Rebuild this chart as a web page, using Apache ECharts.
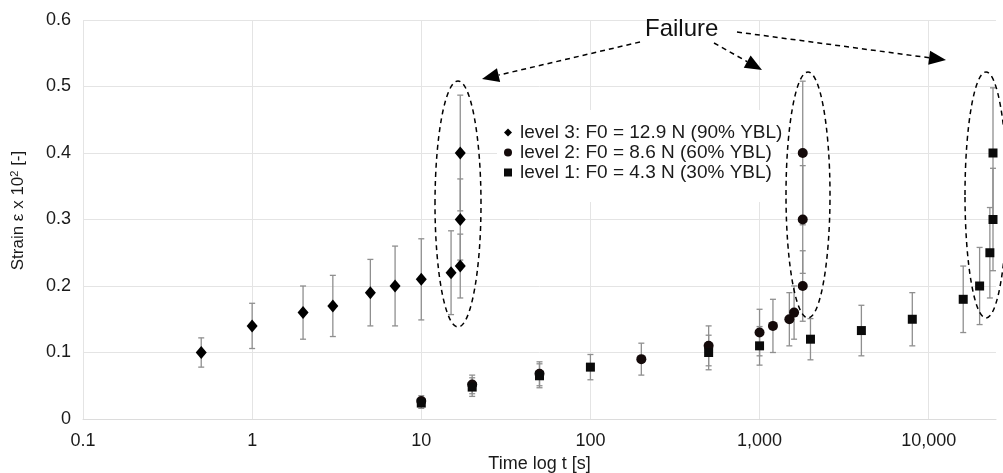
<!DOCTYPE html>
<html>
<head>
<meta charset="utf-8">
<script src="https://cdn.jsdelivr.net/npm/echarts@6/dist/echarts.min.js"></script>
<style>
html,body{margin:0;padding:0;background:#fff;}
#chart{width:1003px;height:473px;}
</style>
</head>
<body>
<div id="chart"></div>
<script>
// ---- data (time t [s], strain, error half-width) ----
var level3T   = [0.5, 1, 2, 3, 5, 7, 10, 15, 17, 17, 17];
var level3Y   = [0.10, 0.14, 0.16, 0.17, 0.19, 0.20, 0.21, 0.22, 0.23, 0.30, 0.40];
var level3Err = [0.022, 0.034, 0.040, 0.046, 0.050, 0.060, 0.061, 0.063, 0.048, 0.061, 0.087];

var level2T   = [10, 20, 50, 200, 500, 1000, 1200, 1500, 1600, 1800, 1800, 1800];
var level2Y   = [0.027, 0.052, 0.068, 0.09, 0.11, 0.13, 0.14, 0.15, 0.16, 0.20, 0.30, 0.40];
var level2Err = [0.008, 0.014, 0.018, 0.024, 0.030, 0.035, 0.040, 0.040, 0.040, 0.053, 0.081, 0.108];

var level1T   = [10, 20, 50, 100, 500, 1000, 2000, 4000, 8000, 16000, 20000, 23000, 24000, 24000];
var level1Y   = [0.024, 0.048, 0.065, 0.078, 0.10, 0.11, 0.12, 0.133, 0.15, 0.18, 0.20, 0.25, 0.30, 0.40];
var level1Err = [0.008, 0.014, 0.018, 0.019, 0.026, 0.029, 0.031, 0.038, 0.040, 0.050, 0.058, 0.068, 0.077, 0.098];

var seriesNames = ['level 3: F0 = 12.9 N (90% YBL)', 'level 2: F0 = 8.6 N (60% YBL)', 'level 1: F0 = 4.3 N (30% YBL)'];
var yTicks = [0, 0.1, 0.2, 0.3, 0.4, 0.5, 0.6];
var xRange = [0.1, 25000];
var annotationText = 'Failure';

function pts(T, Y) { return T.map(function (t, i) { return [t, Y[i]]; }); }
function bars(T, Y, E) { return T.map(function (t, i) { return [t, Y[i] - E[i], Y[i] + E[i]]; }); }

var FONT = 'Liberation Sans, Arial, sans-serif';
var TXT = '#1a1a1a';

function errRender(params, api) {
  var x = api.value(0);
  var lo = api.coord([x, api.value(1)]);
  var hi = api.coord([x, api.value(2)]);
  var cw = 3;
  var st = { stroke: '#8f8f8f', lineWidth: 1.3 };
  return {
    type: 'group',
    children: [
      { type: 'line', shape: { x1: lo[0], y1: lo[1], x2: hi[0], y2: hi[1] }, style: st },
      { type: 'line', shape: { x1: lo[0] - cw, y1: lo[1], x2: lo[0] + cw, y2: lo[1] }, style: st },
      { type: 'line', shape: { x1: hi[0] - cw, y1: hi[1], x2: hi[0] + cw, y2: hi[1] }, style: st }
    ]
  };
}

function fmtX(v) {
  var r = Math.round(v * 1000) / 1000;
  if (r >= 1000) return String(r).replace(/\B(?=(\d{3})+(?!\d))/g, ',');
  return String(r);
}

function arrow(x1, y1, x2, y2) {
  var dx = x2 - x1, dy = y2 - y1, L = Math.sqrt(dx * dx + dy * dy);
  var ux = dx / L, uy = dy / L, len = 17, hw = 7;
  var bx = x2 - ux * len, by = y2 - uy * len;
  return [
    { type: 'line', shape: { x1: x1, y1: y1, x2: bx, y2: by },
      style: { stroke: '#000', lineWidth: 1.5, lineDash: [5, 4] }, z: 100 },
    { type: 'polygon', shape: { points: [[x2, y2], [bx - uy * hw, by + ux * hw], [bx + uy * hw, by - ux * hw]] },
      style: { fill: '#000' }, z: 100 }
  ];
}

function ellipse(cx, cy, rx, ry) {
  return { type: 'ellipse', shape: { cx: cx, cy: cy, rx: rx, ry: ry },
    style: { fill: null, stroke: '#000', lineWidth: 1.5, lineDash: [5, 4] }, z: 100 };
}

var chart = echarts.init(document.getElementById('chart'), null, { renderer: 'canvas' });

var graphics = [
  { type: 'text', left: 645, top: 17, z: 100,
    style: { text: annotationText, font: '24px ' + FONT, fill: '#111' } },
  ellipse(458, 204, 23, 123),
  ellipse(808, 195, 22, 123),
  ellipse(986, 195, 21, 123)
].concat(arrow(640, 42, 482, 79), arrow(714, 43, 762, 70), arrow(737, 32, 946, 60));

chart.setOption({
  animation: false,
  backgroundColor: '#fff',
  grid: { left: 83, right: 7, top: 20, bottom: 54, containLabel: false, outerBoundsMode: 'none' },
  legend: {
    data: [
      { name: seriesNames[0], icon: 'diamond' },
      { name: seriesNames[1], icon: 'circle' },
      { name: seriesNames[2], icon: 'rect' }
    ],
    orient: 'vertical',
    left: 497, top: 110,
    padding: [13, 8, 20, 7],
    itemWidth: 8, itemHeight: 8, itemGap: 1,
    backgroundColor: '#fff',
    textStyle: { fontFamily: FONT, fontSize: 19, color: TXT, padding: [0, 0, 0, 3] },
    selectedMode: false
  },
  xAxis: {
    type: 'log', logBase: 10, min: xRange[0], max: xRange[1],
    name: 'Time log t [s]', nameLocation: 'middle', nameGap: 29,
    nameTextStyle: { fontFamily: FONT, fontSize: 18, color: TXT },
    axisLine: { show: true, lineStyle: { color: '#dcdcdc', width: 1 } },
    axisTick: { show: false },
    axisLabel: { fontFamily: FONT, fontSize: 18, color: TXT, margin: 13, formatter: fmtX, showMaxLabel: false },
    splitLine: { show: true, showMaxLine: false, lineStyle: { color: '#e4e4e4', width: 1 } }
  },
  yAxis: {
    type: 'value', min: yTicks[0], max: yTicks[yTicks.length - 1], interval: 0.1,
    name: 'Strain ε x 10{sup|2} [-]', nameLocation: 'middle', nameGap: 56, nameRotate: 90,
    nameTextStyle: { fontFamily: FONT, fontSize: 17, color: TXT, padding: [0, 0, 0, 18],
      rich: { sup: { fontFamily: FONT, fontSize: 11, color: TXT, verticalAlign: 'top', padding: [0, 0, 7, 0] } } },
    axisLine: { show: false },
    axisTick: { show: false },
    axisLabel: { fontFamily: FONT, fontSize: 18, color: TXT, margin: 12,
      formatter: function (v) { return v === 0 ? '0' : v.toFixed(1); } },
    splitLine: { show: true, lineStyle: { color: '#e4e4e4', width: 1 } }
  },
  series: [
    { type: 'custom', name: 'err3', renderItem: errRender, data: bars(level3T, level3Y, level3Err), z: 1, silent: true, encode: { x: 0, y: [1, 2] } },
    { type: 'custom', name: 'err2', renderItem: errRender, data: bars(level2T, level2Y, level2Err), z: 1, silent: true, encode: { x: 0, y: [1, 2] } },
    { type: 'custom', name: 'err1', renderItem: errRender, data: bars(level1T, level1Y, level1Err), z: 1, silent: true, encode: { x: 0, y: [1, 2] } },
    { type: 'scatter', name: seriesNames[2], data: pts(level1T, level1Y), symbol: 'rect', symbolSize: 9,
      itemStyle: { color: '#0a0a0a', opacity: 1 }, z: 3 },
    { type: 'scatter', name: seriesNames[1], data: pts(level2T, level2Y), symbol: 'circle', symbolSize: 10,
      itemStyle: { color: '#140a0a', opacity: 1 }, z: 2 },
    { type: 'scatter', name: seriesNames[0], data: pts(level3T, level3Y), symbol: 'diamond', symbolSize: [11, 13],
      itemStyle: { color: '#000', opacity: 1 }, z: 4 }
  ],
  graphic: graphics
});
</script>
</body>
</html>
